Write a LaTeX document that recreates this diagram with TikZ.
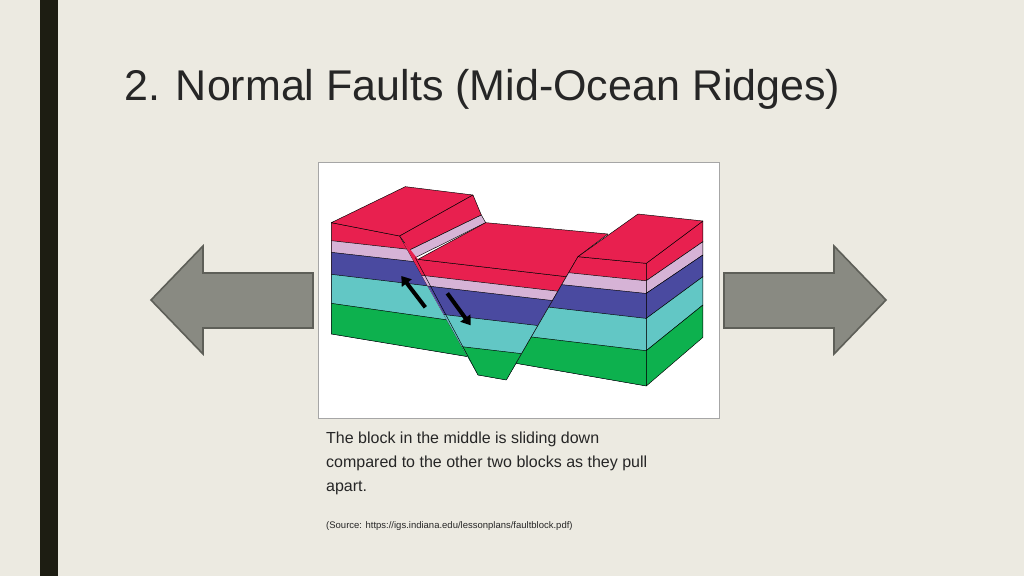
\documentclass[tikz,border=0pt]{standalone}
\usepackage{fontspec}
\setmainfont{Liberation Sans}
\begin{document}
\begin{tikzpicture}[x=1pt,y=-1pt,
  ln/.style={draw=black,line width=0.45pt,line join=round},
  garrow/.style={fill=arrowgray,draw=arrowedge,line width=1.6pt,line join=miter},
  blk/.style={-{Triangle[length=9pt,width=12pt]},line width=4pt,black}]
\definecolor{bg}{HTML}{ECEAE1}
\definecolor{barc}{HTML}{1D1D12}
\definecolor{arrowgray}{HTML}{898A82}
\definecolor{arrowedge}{HTML}{5E5F58}
\definecolor{cpink}{HTML}{E8204F}
\definecolor{clilac}{HTML}{D6B3D6}
\definecolor{cblue}{HTML}{4A4AA0}
\definecolor{cteal}{HTML}{62C7C5}
\definecolor{cgreen}{HTML}{0DB14E}
\usetikzlibrary{arrows.meta}
\fill[bg] (0,0) rectangle (1024,576);
\useasboundingbox (0,0) rectangle (1024,576);
\fill[barc] (40,0) rectangle (58,576);
\node[anchor=base west,font=\fontsize{43}{48}\selectfont,text=black!85,inner sep=0] (title) at (124,100) {2. Normal Faults (Mid-Ocean Ridges)};
% gray arrows
\draw[garrow] (151,300) -- (203,246) -- (203,273) -- (313,273) -- (313,328) -- (203,328) -- (203,354) -- cycle;
\draw[garrow] (886,300) -- (834,246) -- (834,273) -- (724,273) -- (724,328) -- (834,328) -- (834,354) -- cycle;
% frame
\node[draw=gray!70,fill=white,line width=0.8pt,minimum width=401pt,minimum height=256pt,inner sep=0,anchor=north west] (frame) at (318,162) {};
\begin{scope}[shift={(318,160)},x=0.3333pt,y=-0.3333pt]
% ---------- left block front face
\begin{scope}
\clip (40,188) -- (245,228) -- (449,590) -- (40,522) -- cycle;
\fill[cpink] (0,150) rectangle (600,700);
\fill[clilac] (40,242) -- (600,305) -- (600,700) -- (40,700) -- cycle;
\fill[cblue] (40,277) -- (600,340) -- (600,700) -- (40,700) -- cycle;
\fill[cteal] (40,343) -- (600,410) -- (600,700) -- (40,700) -- cycle;
\fill[cgreen] (40,430) -- (600,510) -- (600,700) -- (40,700) -- cycle;
\draw[ln] (40,242) -- (600,305) (40,277) -- (600,340) (40,343) -- (600,410) (40,430) -- (600,510);
\end{scope}
\draw[ln] (40,188) -- (245,228) -- (449,590) -- (40,522) -- cycle;
% left top & fault face
\draw[ln,fill=cpink] (40,188) -- (262,80) -- (465,105) -- (245,228) -- cycle;
\draw[ln,fill=cpink] (245,228) -- (465,105) -- (490,165) -- (275,270) -- cycle;
\draw[ln,fill=clilac] (275,270) -- (490,165) -- (503,188) -- (292,293) -- cycle;
% ---------- middle block
\begin{scope}
\clip (300,298) -- (745,350) -- (565,660) -- (480,645) -- (245,228) -- cycle;
\fill[cpink] (200,250) rectangle (800,700);
\fill[clilac] (200,333) -- (800,403) -- (800,700) -- (200,700) -- cycle;
\fill[cblue] (200,363) -- (800,433) -- (800,700) -- (200,700) -- cycle;
\fill[cteal] (200,443) -- (800,513) -- (800,700) -- (200,700) -- cycle;
\fill[cgreen] (200,533) -- (800,603) -- (800,700) -- (200,700) -- cycle;
\draw[ln] (200,333) -- (800,403) (200,363) -- (800,433) (200,443) -- (800,513) (200,533) -- (800,603);
\end{scope}
\draw[ln] (300,298) -- (745,350) -- (565,660) -- (480,645) -- (292,293);
\draw[ln,fill=cpink] (300,298) -- (503,188) -- (870,222) -- (780,290) -- (745,350) -- cycle;
% ---------- right block front
\begin{scope}
\clip (780,290) -- (985,310) -- (985,678) -- (594,610) -- cycle;
\fill[cpink] (550,250) rectangle (1000,700);
\fill[clilac] (550,317) -- (1000,364) -- (1000,700) -- (550,700) -- cycle;
\fill[cblue] (550,355) -- (1000,402) -- (1000,700) -- (550,700) -- cycle;
\fill[cteal] (550,425) -- (1000,477) -- (1000,700) -- (550,700) -- cycle;
\fill[cgreen] (550,520) -- (1000,574) -- (1000,700) -- (550,700) -- cycle;
\draw[ln] (550,317) -- (1000,364) (550,355) -- (1000,402) (550,425) -- (1000,477) (550,520) -- (1000,574);
\end{scope}
\draw[ln] (780,290) -- (985,310) -- (985,678) -- (594,610) -- cycle;
% right side face
\draw[ln,fill=cpink] (985,310) -- (1155,183) -- (1155,245) -- (985,362) -- cycle;
\draw[ln,fill=clilac] (985,362) -- (1155,245) -- (1155,285) -- (985,400) -- cycle;
\draw[ln,fill=cblue] (985,400) -- (1155,285) -- (1155,350) -- (985,475) -- cycle;
\draw[ln,fill=cteal] (985,475) -- (1155,350) -- (1155,435) -- (985,572) -- cycle;
\draw[ln,fill=cgreen] (985,572) -- (1155,435) -- (1155,532) -- (985,678) -- cycle;
% right top
\draw[ln,fill=cpink] (780,290) -- (960,162) -- (1155,183) -- (985,310) -- cycle;
% fault arrows
\coordinate (a1t) at (322,442); \coordinate (a1h) at (250,348);
\coordinate (a2t) at (388,400); \coordinate (a2h) at (458,496);
\draw[blk] (a1t) -- (a1h);
\draw[blk] (a2t) -- (a2h);
\end{scope}
% captions
\node[anchor=north west,align=left,font=\fontsize{16}{24}\selectfont,text=black!85,inner sep=0] (cap) at (326,432) {The block in the middle is sliding down\\compared to the other two blocks as they pull\\apart.};
\node[anchor=north west,font=\fontsize{9.5}{11}\selectfont,text=black!85,inner sep=0] (src) at (326,521) {(Source: https://igs.indiana.edu/lessonplans/faultblock.pdf)};
\end{tikzpicture}
\end{document}
